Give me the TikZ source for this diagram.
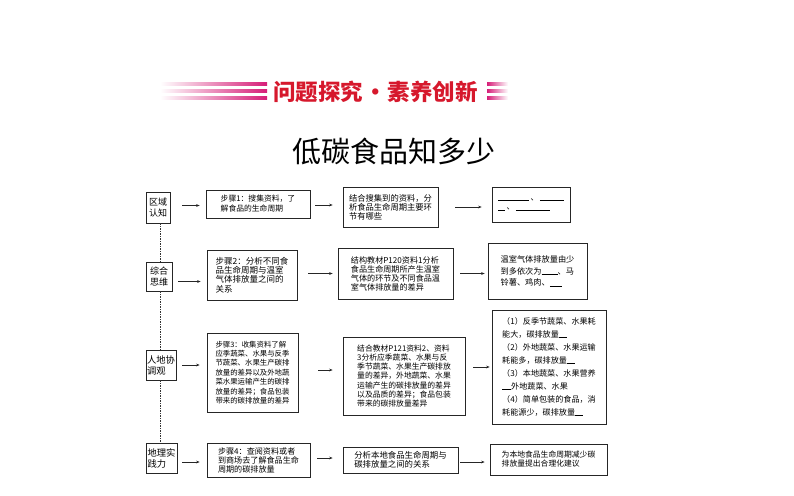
\documentclass[tikz,border=0pt]{standalone}
\usepackage{fontspec}
\newfontfamily\cjk{Noto Sans CJK SC}
\usetikzlibrary{arrows.meta}
\newcommand\setfs[2]{\fontsize{#1}{#2}\selectfont}
\newcommand\blank[1]{\rule[-0.3pt]{#1pt}{0.45pt}}
\definecolor{bannerred}{RGB}{214,24,44}
\definecolor{bannerpink}{RGB}{214,30,120}
\begin{document}
\begin{tikzpicture}[x=1pt,y=-1pt,
  box/.style={draw=black!85, line width=0.7pt, fill=white, inner sep=0pt, align=left, font=\cjk},
  arr/.style={-{Stealth[length=3.6pt,width=2.8pt]}, line width=0.6pt, black!85},
  dots/.style={line width=0.5pt, dash pattern=on 1.2pt off 1.3pt, black!80}]
\useasboundingbox (0,0) rectangle (794,495);

% banner
\shade[left color=white, right color=bannerpink] (160,82.5) rectangle (267,85.5);
\shade[left color=white, right color=bannerpink] (160,89.5) rectangle (267,92.5);
\shade[left color=white, right color=bannerpink] (160,96.5) rectangle (267,99.5);
\shade[left color=bannerpink, right color=white] (487,82.5) rectangle (508,85.5);
\shade[left color=bannerpink, right color=white] (487,89.5) rectangle (508,92.5);
\shade[left color=bannerpink, right color=white] (487,96.5) rectangle (508,99.5);
\node[font=\cjk\bfseries\setfs{22.5}{24}, text=bannerred, inner sep=0pt] (banner) at (375.5,92) {问题探究\hspace{1pt}·\hspace{1pt}素养创新};

% title
\node[font=\cjk\setfs{29}{32}, inner sep=0pt] (title) at (394,151) {低碳食品知多少};

% column 1
\node[box, font=\cjk\setfs{9}{11}, minimum width=24pt, minimum height=31pt] (A1) at (158,207.5) {区域\\认知};
\node[box, font=\cjk\setfs{9}{11}, minimum width=26pt, minimum height=29pt] (A2) at (159,276.5) {综合\\思维};
\node[box, font=\cjk\setfs{9.3}{11}, minimum width=30pt, minimum height=30pt] (A3) at (161,365) {人地协\\调观};
\node[box, font=\cjk\setfs{9.3}{11}, minimum width=31pt, minimum height=30pt] (A4) at (161.5,458) {地理实\\践力};

\coordinate (dl) at (160,0);
\draw[dots] (dl |- A1.south) -- (dl |- A2.north);
\draw[dots] (dl |- A2.south) -- (dl |- A3.north);
\draw[dots] (dl |- A3.south) -- (dl |- A4.north);

% column 2
\node[box, font=\cjk\setfs{7.8}{10}, minimum width=104pt, minimum height=28pt] (B1) at (258,204) {步骤1：搜集资料，了\\解食品的生命周期};
\node[box, font=\cjk\setfs{8.5}{9.3}, minimum width=90pt, minimum height=50pt] (B2) at (252,275) {步骤2：分析不同食\\品生命周期与温室\\气体排放量之间的\\关系};
\node[box, font=\cjk\setfs{7.4}{9.4}, minimum width=91pt, minimum height=79pt] (B3) at (252.5,372.5) {步骤3：收集资料了解\\应季蔬菜、水果与反季\\节蔬菜、水果生产碳排\\放量的差异以及外地蔬\\菜水果运输产生的碳排\\放量的差异；食品包装\\带来的碳排放量的差异};
\node[box, font=\cjk\setfs{8.1}{9}, minimum width=103pt, minimum height=34pt] (B4) at (258.5,460) {步骤4：查阅资料或者\\到商场去了解食品生命\\周期的碳排放量};

% column 3
\node[box, font=\cjk\setfs{8.3}{9}, minimum width=95pt, minimum height=40pt] (C1) at (390.5,207) {结合搜集到的资料，分\\析食品生命周期主要环\\节有哪些};
\node[box, font=\cjk\setfs{8.1}{9}, minimum width=115pt, minimum height=51pt] (C2) at (395.5,273.5) {结构教材P120资料1分析\\食品生命周期所产生温室\\气体的环节及不同食品温\\室气体排放量的差异};
\node[box, font=\cjk\setfs{7.8}{9.3}, minimum width=122pt, minimum height=78pt] (C3) at (404,376) {结合教材P121资料2、资料\\3分析应季蔬菜、水果与反\\季节蔬菜、水果生产碳排放\\量的差异，外地蔬菜、水果\\运输产生的碳排放量的差异\\以及品质的差异；食品包装\\带来的碳排放量差异};
\node[box, font=\cjk\setfs{8.4}{8.8}, minimum width=115pt, minimum height=26pt] (C4) at (400.5,460) {分析本地食品生命周期与\\碳排放量之间的关系};

% column 4
\node[box, font=\cjk\setfs{8}{9.5}, minimum width=78pt, minimum height=35pt] (D1) at (531,204.5) {\blank{31}\,、\,\blank{24}\\\blank{7}\,、\,\blank{34}};
\node[box, font=\cjk\setfs{8.2}{11.6}, minimum width=99pt, minimum height=56pt] (D2) at (537.5,271) {温室气体排放量由少\\到多依次为\blank{16}、马\\铃薯、鸡肉、\blank{12}};
\node[box, font=\cjk\setfs{8.1}{13}, minimum width=114pt, minimum height=114pt] (D3) at (549,367) {（1）反季节蔬菜、水果耗\\能大，碳排放量\blank{8}\\（2）外地蔬菜、水果运输\\耗能多，碳排放量\blank{8}\\（3）本地蔬菜、水果营养\\\blank{9}外地蔬菜、水果\\（4）简单包装的食品，消\\耗能源少，碳排放量\blank{8}};
\node[box, font=\cjk\setfs{7.8}{9}, minimum width=117pt, minimum height=31pt] (D4) at (548.5,459.5) {为本地食品生命周期减少碳\\排放量提出合理化建议};

% arrows row 1
\draw[arr] ([xshift=12pt,yshift=2pt]A1.east) -- ([xshift=-6pt,yshift=2pt]B1.west |- A1.east);
\draw[arr] ([xshift=5pt,yshift=-1pt]B1.east) -- ([xshift=-10pt,yshift=-1pt]C1.west |- B1.east);
\draw[arr] ([xshift=17pt]C1.east) -- ([xshift=-10pt]D1.west |- C1.east);
% row 2
\draw[arr] ([xshift=6pt,yshift=-5pt]A2.east) -- ([xshift=-6pt,yshift=-5pt]B2.west |- A2.east);
\draw[arr] ([xshift=11pt]B2.east |- C2.west) -- ([xshift=-5pt]C2.west);
\draw[arr] ([xshift=7pt]C2.east) -- ([xshift=-3pt]D2.west |- C2.east);
% row 3
\draw[arr] ([xshift=6pt]A3.east) -- ([xshift=-7pt]B3.west |- A3.east);
\draw[arr] ([xshift=20pt,yshift=2.5pt]B3.east) -- ([xshift=-10pt,yshift=2.5pt]C3.west |- B3.east);
\draw[arr] ([xshift=8pt]C3.east |- D3.west) -- ([xshift=-2pt]D3.west);
% row 4
\draw[arr] ([xshift=5pt,yshift=-4pt]A4.east) -- ([xshift=-7pt,yshift=-4pt]B4.west |- A4.east);
\draw[arr] ([xshift=7pt,yshift=2pt]B4.east) -- ([xshift=-10pt,yshift=2pt]C4.west |- B4.east);
\draw[arr] ([xshift=2pt,yshift=-2pt]C4.east) -- ([xshift=-5pt,yshift=-2pt]D4.west |- C4.east);
\end{tikzpicture}
\end{document}
